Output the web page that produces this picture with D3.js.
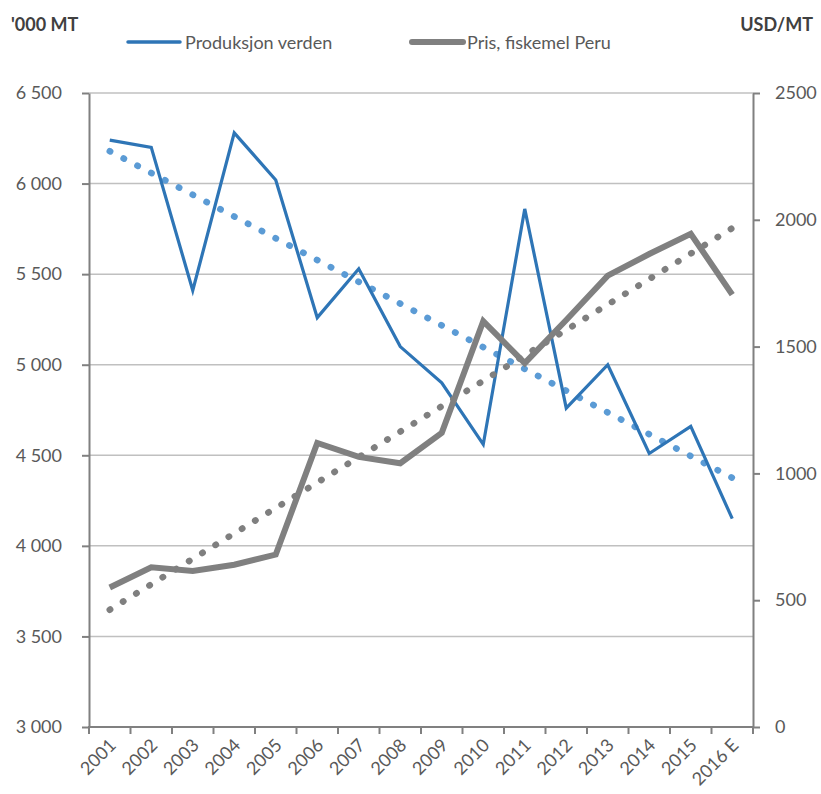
<!DOCTYPE html>
<html>
<head>
<meta charset="utf-8">
<script src="https://cdn.jsdelivr.net/npm/d3@7"></script>
<style>
  body { margin: 0; background: #fff; }
  svg { display: block; font-family: Lato, "Open Sans", sans-serif; }
  .tick text { fill: #595959; font-size: 18px; }
  .title { fill: #404040; font-size: 18px; font-weight: bold; }
  .legend text { fill: #595959; font-size: 18px; }
</style>
</head>
<body>
<svg width="821" height="794"></svg>
<script>
// categories and series
var years = ["2001","2002","2003","2004","2005","2006","2007","2008","2009","2010","2011","2012","2013","2014","2015","2016 E"];
var produksjon = [6240, 6200, 5410, 6280, 6020, 5260, 5530, 5100, 4900, 4560, 5860, 4760, 5000, 4510, 4660, 4150];
var pris = [550, 630, 615, 640, 680, 1120, 1065, 1040, 1160, 1600, 1435, 1605, 1780, 1865, 1945, 1705];
var leftTicks = [3000, 3500, 4000, 4500, 5000, 5500, 6000, 6500];
var rightTicks = [0, 500, 1000, 1500, 2000, 2500];

var svg = d3.select("svg");

var plotLeft = 89, plotRight = 753, plotTop = 93, plotBottom = 727;

var x = d3.scaleBand().domain(years).range([plotLeft, plotRight]).padding(0);
var yL = d3.scaleLinear().domain([3000, 6500]).range([plotBottom, plotTop]);
var yR = d3.scaleLinear().domain([0, 2500]).range([plotBottom, plotTop]);

function cx(d) { return x(d) + x.bandwidth() / 2; }

// linear trend (least squares, like the spreadsheet trendline)
function trend(vals) {
    var n = vals.length;
    var mx = (n + 1) / 2, my = d3.mean(vals);
    var sxy = 0, sxx = 0;
    vals.forEach(function(v, i) {
        sxy += (i + 1 - mx) * (v - my);
        sxx += (i + 1 - mx) * (i + 1 - mx);
    });
    var b = sxy / sxx;
    return vals.map(function(v, i) { return my + b * (i + 1 - mx); });
}

var nf = d3.format(",d");

// gridlines
svg.append("g")
    .selectAll("line")
    .data(leftTicks)
    .enter()
    .append("line")
    .attr("x1", plotLeft)
    .attr("x2", plotRight)
    .attr("y1", function(d) { return yL(d); })
    .attr("y2", function(d) { return yL(d); })
    .attr("stroke", "#c0c0c0")
    .attr("stroke-width", 1.5);

// left axis
var gL = svg.append("g")
    .attr("transform", "translate(" + plotLeft + ",0)")
    .call(d3.axisLeft(yL).tickValues(leftTicks).tickSize(7).tickSizeOuter(0).tickPadding(20)
        .tickFormat(function(d) { return nf(d).replace(",", " "); }));

// right axis
var gR = svg.append("g")
    .attr("transform", "translate(" + plotRight + ",0)")
    .call(d3.axisRight(yR).tickValues(rightTicks).tickSize(7).tickSizeOuter(0).tickPadding(15)
        .tickFormat(d3.format("d")));

// bottom axis labels
var gB = svg.append("g")
    .attr("transform", "translate(0," + plotBottom + ")")
    .call(d3.axisBottom(x).tickSize(0).tickSizeOuter(0));
gB.select(".domain").remove();
gB.selectAll(".tick text")
    .attr("y", 0)
    .attr("dy", "0.35em")
    .attr("text-anchor", "end")
    .attr("transform", "translate(3,15) rotate(-45)");

// bottom tick marks at category boundaries
svg.append("g")
    .selectAll("line")
    .data(years.map(function(d) { return x(d); }).concat([plotRight]))
    .enter()
    .append("line")
    .attr("x1", function(d) { return d; })
    .attr("x2", function(d) { return d; })
    .attr("y1", plotBottom)
    .attr("y2", plotBottom + 7)
    .attr("stroke", "#808080")
    .attr("stroke-width", 2);

[gL, gR, gB].forEach(function(g) {
    g.selectAll(".domain").attr("stroke", "#808080").attr("stroke-width", 2);
    g.selectAll(".tick line").attr("stroke", "#808080").attr("stroke-width", 2);
    g.selectAll(".tick text").style("font-family", "Lato, sans-serif");
});

// x axis line
svg.append("line")
    .attr("x1", plotLeft - 1)
    .attr("x2", plotRight + 1)
    .attr("y1", plotBottom)
    .attr("y2", plotBottom)
    .attr("stroke", "#808080")
    .attr("stroke-width", 2);

var lineL = d3.line()
    .x(function(d, i) { return cx(years[i]); })
    .y(function(d) { return yL(d); });
var lineR = d3.line()
    .x(function(d, i) { return cx(years[i]); })
    .y(function(d) { return yR(d); });

var tL = trend(produksjon);
var tR = trend(pris);

// blue trend
svg.append("path")
    .attr("d", lineL(tL))
    .attr("fill", "none")
    .attr("stroke", "#5b9bd5")
    .attr("stroke-width", 6.5)
    .attr("stroke-linecap", "round")
    .attr("stroke-dasharray", "0.5 15.1");

// blue series
svg.append("path")
    .attr("d", lineL(produksjon))
    .attr("fill", "none")
    .attr("stroke", "#2e75b6")
    .attr("stroke-width", 3.2);

// gray trend
svg.append("path")
    .attr("d", lineR(tR))
    .attr("fill", "none")
    .attr("stroke", "#7f7f7f")
    .attr("stroke-width", 6.5)
    .attr("stroke-linecap", "round")
    .attr("stroke-dasharray", "0.5 15");

// gray series
svg.append("path")
    .attr("d", lineR(pris))
    .attr("fill", "none")
    .attr("stroke", "#808080")
    .attr("stroke-width", 6);

// axis titles
svg.append("text").attr("class", "title").attr("x", 11).attr("y", 31).text("'000 MT");
svg.append("text").attr("class", "title").attr("x", 813).attr("y", 31).attr("text-anchor", "end").text("USD/MT");

// legend
var legend = svg.append("g").attr("class", "legend");
legend.append("line")
    .attr("x1", 128).attr("x2", 180).attr("y1", 42).attr("y2", 42)
    .attr("stroke", "#2e75b6").attr("stroke-width", 3.5).attr("stroke-linecap", "round");
legend.append("text").attr("x", 185).attr("y", 49).text("Produksjon verden");
legend.append("line")
    .attr("x1", 412).attr("x2", 463).attr("y1", 42).attr("y2", 42)
    .attr("stroke", "#808080").attr("stroke-width", 6).attr("stroke-linecap", "round");
legend.append("text").attr("x", 467).attr("y", 49).text("Pris, fiskemel Peru");
</script>
</body>
</html>
